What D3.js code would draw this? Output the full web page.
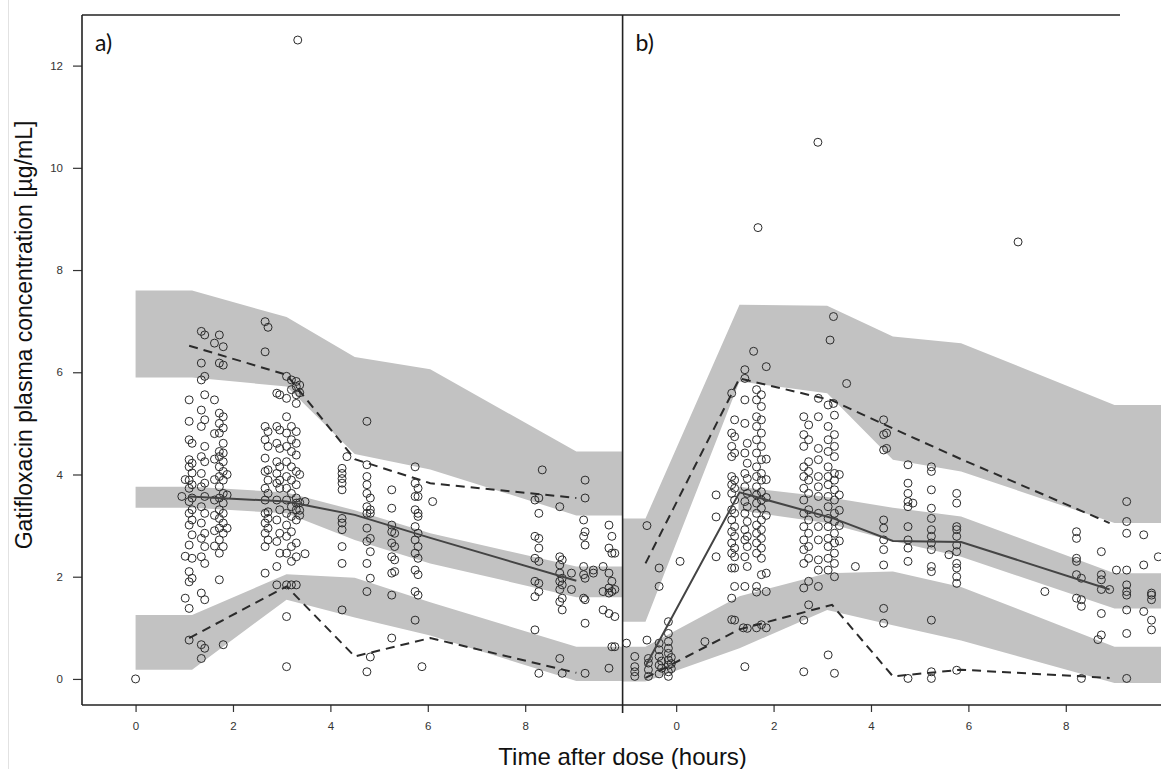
<!DOCTYPE html>
<html>
<head>
<meta charset="utf-8">
<script src="https://cdn.jsdelivr.net/npm/d3@7"></script>
<style>
  body { margin: 0; background: #fff; }
  svg { display: block; }
  .tick text { font-family: "Liberation Sans", Arial, sans-serif; font-size: 11.5px; fill: #333; }
  .tick line { stroke: #333; stroke-width: 1.2; }
  .domain { display: none; }
</style>
</head>
<body>
<svg id="viz" width="1161" height="769"></svg>
<script>
// ---- data ----
const xTicks = [0, 2, 4, 6, 8];
const yTicks = [0, 2, 4, 6, 8, 10, 12];

// panel a) simulated 90% CI bands
const aBandT  = [0, 1.16, 3.1, 4.5, 6.05, 9.05, 10];
const aHiLo   = [5.9, 5.9, 5.72, 4.4, 4.1, 3.2, 3.2];
const aHiHi   = [7.6, 7.6, 7.08, 6.3, 6.06, 4.45, 4.45];
const aMidLo  = [3.35, 3.35, 3.24, 2.72, 2.26, 1.6, 1.6];
const aMidHi  = [3.76, 3.76, 3.65, 3.3, 2.85, 2.2, 2.2];
const aLoLo   = [0.18, 0.18, 1.55, 1.2, 0.85, -0.04, -0.04];
const aLoHi   = [1.25, 1.25, 2.05, 1.98, 1.5, 0.63, 0.63];
// panel a) observed percentiles
const aBinT   = [1.1, 3.1, 4.5, 6.05, 9.05];
const aP50    = [3.57, 3.47, 3.21, 2.76, 1.92];
const aP95    = [6.52, 5.95, 4.3, 3.83, 3.54];
const aP05    = [0.8, 1.81, 0.44, 0.8, 0.12];
// panel a) observations, [time, [concentrations]]
const aObs = [
  [0, [0]],
  [0.95, [3.57]],
  [1.02, [1.58, 3.9, 2.4]],
  [1.1, [5.46, 5.04, 4.68, 4.29, 4.15, 3.89, 3.73, 3.47, 3.24, 3.01, 2.62, 2.10, 1.90, 1.38, 0.76]],
  [1.16, [4.61, 4.22, 4.03, 3.80, 3.54, 3.31, 3.11, 2.82, 2.36, 1.97]],
  [1.35, [6.80, 6.18, 5.85, 5.26, 4.94, 4.35, 4.02, 3.76, 3.37, 3.05, 2.75, 2.39, 1.68, 0.67, 0.40]],
  [1.42, [6.73, 5.92, 5.56, 5.07, 4.55, 4.25, 3.83, 3.57, 3.24, 2.85, 2.59, 2.26, 1.55, 0.6]],
  [1.62, [6.57, 5.46, 4.8, 4.3, 3.9, 3.5, 3.2, 2.9, 2.6]],
  [1.72, [6.73, 6.18, 5.20, 5.00, 4.81, 4.45, 4.35, 4.15, 3.96, 3.76, 3.54, 3.31, 3.14, 2.95, 2.72, 2.46, 1.94]],
  [1.8, [6.50, 6.14, 5.13, 4.91, 4.61, 4.42, 4.25, 4.06, 3.89, 3.63, 3.44, 3.24, 3.05, 2.85, 2.59, 0.67]],
  [1.88, [4.0, 3.6, 2.95]],
  [2.66, [6.99, 6.4, 4.94, 4.68, 4.32, 4.06, 3.73, 3.50, 3.24, 3.05, 2.85, 2.59, 2.07]],
  [2.72, [6.88, 4.84, 4.55, 4.09, 3.89, 3.63, 3.27, 3.14, 2.95, 2.72]],
  [2.9, [5.59, 4.94, 4.61, 4.25, 4.02, 3.83, 3.50, 3.11, 2.69, 2.20, 1.84]],
  [2.96, [5.56, 4.87, 4.51, 4.15, 3.89, 3.73, 3.31, 2.85, 2.46]],
  [3.1, [5.92, 5.49, 5.13, 4.81, 4.55, 4.25, 3.96, 3.73, 3.50, 3.24, 3.01, 2.79, 2.46, 1.84, 1.22, 0.24]],
  [3.2, [5.85, 5.66, 4.94, 4.68, 4.45, 4.15, 3.89, 3.63, 3.37, 3.18, 2.88, 2.59, 2.30, 1.84]],
  [3.3, [5.82, 5.72, 5.56, 5.39, 4.84, 4.61, 4.38, 4.06, 3.80, 3.54, 3.44, 3.31, 3.11, 2.66, 2.39, 1.84]],
  [3.33, [12.5]],
  [3.37, [5.75, 5.6, 4.0, 3.45, 3.3, 3.2]],
  [3.48, [3.47, 2.45]],
  [4.24, [4.12, 4.02, 3.92, 3.83, 3.70, 3.14, 3.05, 2.92, 2.59, 2.26, 1.35]],
  [4.34, [4.35]],
  [4.75, [5.04, 4.19, 3.96, 3.80, 3.63, 3.37, 3.24, 2.95, 2.69, 2.26, 1.71, 0.14]],
  [4.82, [3.54, 3.31, 3.24, 2.75, 2.49, 1.97, 0.43]],
  [5.26, [3.70, 3.34, 3.01, 2.88, 2.66, 2.39, 2.07, 1.64, 0.80]],
  [5.32, [2.85, 2.59, 2.33, 2.10]],
  [5.74, [4.15, 3.83, 3.57, 3.31, 2.98, 2.72, 2.46, 2.13, 1.71, 1.15]],
  [5.8, [3.73, 3.57, 3.24, 3.18, 2.85, 2.59, 2.36, 2.04, 1.64]],
  [5.88, [0.24]],
  [6.1, [3.47]],
  [8.2, [3.50, 2.79, 2.36, 1.91, 1.61, 0.96]],
  [8.28, [3.54, 3.24, 2.75, 2.56, 2.30, 1.87, 1.71, 0.11]],
  [8.35, [4.09]],
  [8.71, [3.37, 2.39, 2.23, 2.07, 1.91, 1.75, 1.51, 0.40]],
  [8.76, [2.33, 1.97, 1.84, 1.58, 1.35, 0.11]],
  [8.95, [2.07, 1.75]],
  [9.2, [3.11, 2.79, 2.20, 2.04, 1.58]],
  [9.23, [3.89, 3.54, 2.88, 2.62, 1.97, 1.55, 1.09, 0.11]],
  [9.4, [2.13, 2.07]],
  [9.6, [2.2, 1.71, 1.35]],
  [9.72, [3.01, 2.56, 2.07, 1.78, 1.68, 1.28, 0.21]],
  [9.78, [2.79, 2.46, 1.91, 1.71, 0.63]],
  [9.84, [2.46, 1.75, 1.22, 0.63]]
];

// panel b) simulated 90% CI bands
const bBandT  = [-1.1, -0.63, 1.3, 3.1, 4.45, 5.85, 9.0, 10];
const bHiLo   = [1.12, 1.12, 5.82, 5.59, 4.29, 4.06, 3.05, 3.05];
const bHiHi   = [3.14, 3.14, 7.32, 7.3, 6.7, 6.57, 5.36, 5.36];
const bLoLo   = [-0.05, -0.05, 0.6, 1.35, 1.05, 0.75, -0.08, -0.08];
const bLoHi   = [0.63, 0.63, 1.62, 2.07, 2.1, 1.8, 0.63, 0.63];
const bMidT   = [1.28, 3.1, 4.45, 5.85, 9.0, 10];
const bMidLo  = [3.3, 3.05, 2.7, 2.39, 1.38, 1.38];
const bMidHi  = [3.76, 3.56, 3.35, 3.18, 2.07, 2.07];
// panel b) observed percentiles
const bBinT   = [-0.63, 1.3, 3.2, 4.45, 5.85, 8.9];
const bP50    = [0.25, 3.65, 3.15, 2.7, 2.68, 1.75];
const bP95    = [2.26, 5.88, 5.45, 4.9, 4.3, 3.05];
const bP05    = [0.02, 0.97, 1.45, 0.05, 0.18, 0.02];
// panel b) observations
const bObs = [
  [-1.02, [0.7]],
  [-0.85, [0.44, 0.24, 0.14, 0.05]],
  [-0.6, [3.0, 0.76]],
  [-0.57, [0.4, 0.31, 0.18, 0.05]],
  [-0.35, [2.17, 1.81, 0.70, 0.57, 0.44, 0.27, 0.1]],
  [-0.3, [0.35, 0.21]],
  [-0.16, [1.12, 0.89, 0.73, 0.6, 0.5, 0.37, 0.27, 0.14, 0.05]],
  [-0.1, [0.42, 0.3, 0.2]],
  [0.08, [2.3]],
  [0.59, [0.73]],
  [0.82, [3.60, 3.17, 2.39]],
  [1.14, [5.59, 4.81, 4.55, 4.35, 3.96, 3.80, 3.63, 3.31, 3.11, 2.88, 2.66, 2.46, 2.17, 1.58, 1.16]],
  [1.2, [5.07, 4.74, 4.42, 3.89, 3.73, 3.50, 3.24, 2.98, 2.79, 2.56, 2.39, 2.17, 1.81, 1.15]],
  [1.38, [1.0]],
  [1.41, [6.05, 5.88, 5.46, 5.00, 4.42, 4.02, 3.76, 3.47, 3.24, 2.92, 2.72, 2.39, 1.81, 0.24]],
  [1.46, [4.61, 4.22, 3.92, 3.63, 3.37, 3.08, 2.79, 2.59, 2.20, 0.99]],
  [1.59, [6.41]],
  [1.65, [5.66, 5.46, 5.13, 4.94, 4.68, 4.42, 4.15, 3.96, 3.76, 3.60, 3.44, 3.24, 3.01, 2.85, 2.66, 2.46, 1.81, 1.7, 1.0]],
  [1.68, [8.83]],
  [1.75, [5.56, 5.33, 5.07, 4.81, 4.55, 4.29, 4.02, 3.89, 3.66, 3.50, 3.34, 3.11, 2.92, 2.75, 2.56, 2.36, 2.04, 1.06]],
  [1.85, [6.11, 4.3, 3.9, 3.55, 3.2, 2.07, 1.71, 1.0]],
  [2.62, [5.13, 4.78, 4.55, 4.15, 3.96, 3.73, 3.50, 3.24, 2.98, 2.72, 2.53, 2.26, 1.78, 1.15, 0.14]],
  [2.72, [4.97, 4.68, 4.25, 4.06, 3.89, 3.63, 3.31, 3.11, 2.85, 2.59, 2.36, 1.91, 1.45]],
  [2.91, [10.5]],
  [2.92, [5.49, 5.13, 4.51, 4.29, 3.96, 3.76, 3.57, 3.24, 2.98, 2.72, 2.33, 2.13, 1.81]],
  [3.12, [5.36, 4.94, 4.68, 4.45, 4.15, 3.96, 3.80, 3.57, 3.37, 3.14, 2.98, 2.75, 2.59, 2.36, 2.13, 0.47]],
  [3.16, [6.63]],
  [3.23, [7.09, 5.39]],
  [3.25, [5.16, 4.78, 4.55, 4.35, 4.02, 3.89, 3.70, 3.50, 3.24, 3.08, 2.85, 2.66, 2.46, 2.26, 2.00, 0.11]],
  [3.35, [4.0, 3.6, 3.3, 3.0, 2.7]],
  [3.5, [5.78]],
  [3.68, [2.2]],
  [4.26, [5.07, 4.78, 4.48, 3.11, 2.95, 2.72, 2.53, 2.23, 1.38, 1.09]],
  [4.32, [4.81, 4.51]],
  [4.76, [4.19, 3.83, 3.63, 3.47, 3.37, 2.98, 2.72, 2.56, 2.30, 0.01]],
  [4.86, [3.44]],
  [5.24, [4.15, 4.06, 3.70, 3.34, 3.14, 2.92, 2.79, 2.66, 2.53, 2.20, 2.10, 1.15, 0.14, 0.01]],
  [5.6, [2.43]],
  [5.76, [3.63, 3.44, 2.98, 2.92, 2.79, 2.62, 2.49, 2.26, 2.17, 2.00, 1.87, 0.17]],
  [7.02, [8.55]],
  [7.57, [1.71]],
  [8.22, [2.88, 2.75, 2.36, 2.30, 2.04, 1.58]],
  [8.32, [1.97, 1.55, 1.42, 0.01]],
  [8.66, [0.77]],
  [8.73, [2.49, 2.04, 1.94, 1.75, 1.28, 0.86]],
  [8.9, [1.75]],
  [9.04, [2.13]],
  [9.25, [3.47, 3.08, 2.85, 2.13, 1.84, 1.71, 1.64, 1.35, 0.89, 0.01]],
  [9.6, [2.82, 2.23, 1.32]],
  [9.76, [1.68, 1.64, 1.55, 1.15, 0.96]],
  [9.9, [2.39]]
];

// ---- layout ----
const svg = d3.select("#viz");
const TOP = 15, BOTTOM = 705, LEFT = 82, MID = 622.6, RIGHT = 1163.2;
const BAND = "#c2c2c2", INK = "#2b2b2b";

const y = d3.scaleLinear().domain([-0.51, 12.99]).range([BOTTOM, TOP]);

const zip = (t, lo, hi) => t.map((v, i) => ({ t: v, lo: lo[i], hi: hi[i] }));
const pts = (t, v) => t.map((d, i) => ({ t: d, v: v[i] }));
const flat = obs => obs.flatMap(([t, vs]) => vs.map(v => ({ t, v })));

const panels = [
  { id: "a", label: "a)", x0: LEFT, x1: MID,
    bands: [zip(aBandT, aHiLo, aHiHi), zip(aBandT, aMidLo, aMidHi), zip(aBandT, aLoLo, aLoHi)],
    p50: pts(aBinT, aP50), p95: pts(aBinT, aP95), p05: pts(aBinT, aP05), obs: flat(aObs) },
  { id: "b", label: "b)", x0: MID, x1: RIGHT,
    bands: [zip(bBandT, bHiLo, bHiHi), zip(bMidT, bMidLo, bMidHi), zip(bBandT, bLoLo, bLoHi)],
    p50: pts(bBinT, bP50), p95: pts(bBinT, bP95), p05: pts(bBinT, bP05), obs: flat(bObs) }
];

// faint page border on the far left
svg.append("line").attr("x1", 8.5).attr("x2", 8.5).attr("y1", 0).attr("y2", 769)
  .attr("stroke", "#e2e2e2").attr("stroke-width", 1);

const defs = svg.append("defs");

panels.forEach(p => {
  const x = d3.scaleLinear().domain([-1.1, 10]).range([p.x0, p.x1]);
  const clipId = "clip-" + p.id;
  defs.append("clipPath").attr("id", clipId)
    .append("rect").attr("x", p.x0).attr("y", TOP)
    .attr("width", p.x1 - p.x0).attr("height", BOTTOM - TOP);

  const g = svg.append("g").attr("clip-path", `url(#${clipId})`);

  const area = d3.area().x(d => x(d.t)).y0(d => y(d.lo)).y1(d => y(d.hi));
  g.selectAll("path.band").data(p.bands).join("path")
    .attr("class", "band").attr("d", area).attr("fill", BAND);

  g.selectAll("circle").data(p.obs).join("circle")
    .attr("cx", d => x(d.t)).attr("cy", d => y(d.v)).attr("r", 4)
    .attr("fill", "none").attr("stroke", INK).attr("stroke-width", 1);

  const line = d3.line().x(d => x(d.t)).y(d => y(d.v));
  g.append("path").attr("d", line(p.p50)).attr("fill", "none")
    .attr("stroke", "#444").attr("stroke-width", 2);
  [p.p95, p.p05].forEach(s => {
    g.append("path").attr("d", line(s)).attr("fill", "none")
      .attr("stroke", INK).attr("stroke-width", 2).attr("stroke-dasharray", "9,6");
  });

  svg.append("g").attr("transform", `translate(0,${BOTTOM})`)
    .call(d3.axisBottom(x).tickValues(xTicks).tickSize(7).tickPadding(10).tickFormat(d3.format("d")));

  svg.append("text").attr("x", p.x0 + 13).attr("y", TOP + 36)
    .attr("font-family", "Lato, 'Open Sans', sans-serif").attr("font-size", 23)
    .attr("fill", "#111").text(p.label);
});

svg.append("g").attr("transform", `translate(${LEFT},0)`)
  .call(d3.axisLeft(y).tickValues(yTicks).tickSize(9).tickPadding(10).tickFormat(d3.format("d")));

// frame
const frame = svg.append("g").attr("stroke", "#222").attr("stroke-width", 1.6).attr("fill", "none");
frame.append("line").attr("x1", LEFT).attr("x2", 1120).attr("y1", TOP).attr("y2", TOP);
frame.append("line").attr("x1", LEFT).attr("x2", LEFT).attr("y1", TOP).attr("y2", BOTTOM);
frame.append("line").attr("x1", MID).attr("x2", MID).attr("y1", TOP).attr("y2", BOTTOM + 8);
frame.append("line").attr("x1", LEFT).attr("x2", 1161).attr("y1", BOTTOM).attr("y2", BOTTOM);

// axis titles
svg.append("text").attr("x", MID).attr("y", 765).attr("text-anchor", "middle")
  .attr("font-family", "'Liberation Sans', Arial, sans-serif").attr("font-size", 24)
  .attr("fill", "#111").text("Time after dose (hours)");
svg.append("text").attr("transform", "translate(32,335) rotate(-90)").attr("text-anchor", "middle")
  .attr("font-family", "'Liberation Sans', Arial, sans-serif").attr("font-size", 23)
  .attr("fill", "#111").text("Gatifloxacin plasma concentration [µg/mL]");
</script>
</body>
</html>
